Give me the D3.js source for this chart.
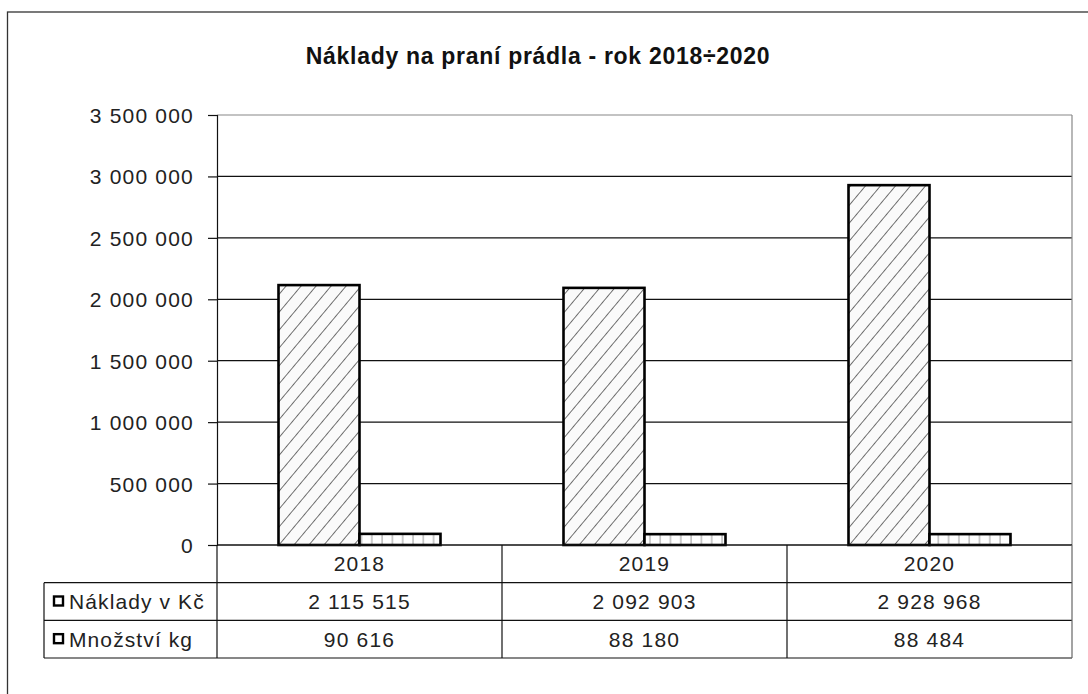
<!DOCTYPE html>
<html>
<head>
<meta charset="utf-8">
<script src="https://cdn.jsdelivr.net/npm/d3@7"></script>
<style>
  body { margin: 0; background: #fff; }
  text { font-family: "Liberation Sans", Arial, sans-serif; fill: #222; }
</style>
</head>
<body>
<div id="chart"></div>
<script>
//data
var years = ["2018", "2019", "2020"];
var seriesNames = ["Náklady v Kč", "Množství kg"];
var costValues = [2115515, 2092903, 2928968];
var kgValues = [90616, 88180, 88484];
var yTicks = [0, 500000, 1000000, 1500000, 2000000, 2500000, 3000000, 3500000];
var chartTitle = "Náklady na praní prádla - rok 2018÷2020";

var W = 1088, H = 694;
var plotL = 217, plotR = 1072, plotT = 115, plotB = 545;
var tableL = 44, tableB = 658;

var cz = d3.formatLocale({decimal: ",", thousands: " ", grouping: [3], currency: ["", " Kč"]});
var fmt = cz.format(",d");

var svg = d3.select("#chart").append("svg")
    .attr("width", W)
    .attr("height", H);

//hatch patterns
var defs = svg.append("defs");
var diag = defs.append("pattern")
    .attr("id", "diag")
    .attr("patternUnits", "userSpaceOnUse")
    .attr("width", 11.5).attr("height", 11.5)
    .attr("patternTransform", "rotate(40)");
diag.append("rect").attr("width", 11.5).attr("height", 11.5).attr("fill", "#fafafa");
diag.append("line").attr("x1", 0).attr("y1", 0).attr("x2", 0).attr("y2", 11.5)
    .attr("stroke", "#444").attr("stroke-width", 1.5);

var vert = defs.append("pattern")
    .attr("id", "vert")
    .attr("patternUnits", "userSpaceOnUse")
    .attr("width", 10.3).attr("height", 10);
vert.append("rect").attr("width", 10.3).attr("height", 10).attr("fill", "#fff");
vert.append("line").attr("x1", 1).attr("y1", 0).attr("x2", 1).attr("y2", 10)
    .attr("stroke", "#999").attr("stroke-width", 1);

var fills = ["url(#diag)", "url(#vert)"];

//outer chart border (cut off right and bottom in the original)
svg.append("rect")
    .attr("x", 7.5).attr("y", 12)
    .attr("width", W).attr("height", H)
    .attr("fill", "none")
    .attr("stroke", "#333")
    .attr("stroke-width", 1.3);

svg.append("text")
    .attr("x", 538)
    .attr("y", 64)
    .attr("text-anchor", "middle")
    .style("font-size", "23px")
    .style("font-weight", "bold")
    .style("letter-spacing", "0.7px")
    .style("fill", "#111")
    .text(chartTitle);

//scales
var xScale = d3.scaleBand()
    .domain(years)
    .range([plotL, plotR]);

var bw = xScale.bandwidth();
var xInner = d3.scaleBand()
    .domain(seriesNames)
    .range([bw * 0.2158, bw * (1 - 0.2158)]);

var yScale = d3.scaleLinear()
    .domain([0, 3500000])
    .range([plotB, plotT]);

//gridlines
svg.append("g").selectAll("line")
    .data(yTicks.slice(1))
    .enter().append("line")
    .attr("x1", plotL).attr("x2", plotR)
    .attr("y1", function(d){ return yScale(d); })
    .attr("y2", function(d){ return yScale(d); })
    .attr("stroke", function(d){ return d === 3500000 ? "#888" : "#111"; })
    .attr("stroke-width", 1.2);

//right edge of plot area
svg.append("line")
    .attr("x1", plotR).attr("x2", plotR)
    .attr("y1", plotT).attr("y2", plotB)
    .attr("stroke", "#888").attr("stroke-width", 1.2);

//y axis
var yAxis = svg.append("g")
    .attr("transform", "translate(" + plotL + ",0)")
    .call(d3.axisLeft(yScale).tickValues(yTicks).tickFormat(fmt).tickSize(9).tickPadding(14));
yAxis.select(".domain").attr("stroke", "#111").attr("stroke-width", 1.2);
yAxis.selectAll(".tick line").attr("stroke", "#111").attr("stroke-width", 1.2);
yAxis.selectAll(".tick text")
    .style("font-size", "21px")
    .style("letter-spacing", "1.2px")
    .attr("dy", "0.36em");

//bars
var barData = [];
years.forEach(function(y, i){
  barData.push({year: y, series: seriesNames[0], value: costValues[i], k: 0});
  barData.push({year: y, series: seriesNames[1], value: kgValues[i], k: 1});
});

svg.append("g").selectAll("rect")
    .data(barData)
    .enter().append("rect")
    .attr("x", function(d){ return xScale(d.year) + xInner(d.series); })
    .attr("y", function(d){ return yScale(d.value); })
    .attr("width", xInner.bandwidth())
    .attr("height", function(d){ return plotB - yScale(d.value); })
    .attr("fill", function(d){ return fills[d.k]; })
    .attr("stroke", "#000")
    .attr("stroke-width", 2.6);

//zero line on top
svg.append("line")
    .attr("x1", plotL).attr("x2", plotR)
    .attr("y1", yScale(0)).attr("y2", yScale(0))
    .attr("stroke", "#111").attr("stroke-width", 1.3);

//data table
var rowKeys = ["cat"].concat(seriesNames);
var rowScale = d3.scaleBand()
    .domain(rowKeys)
    .range([plotB, tableB]);
var rh = rowScale.bandwidth();
var table = svg.append("g");

//horizontal lines
table.selectAll(".hline")
    .data(seriesNames.concat(["end"]))
    .enter().append("line")
    .attr("x1", tableL).attr("x2", plotR)
    .attr("y1", function(d, i){ return rowScale(seriesNames[0]) + i * rh; })
    .attr("y2", function(d, i){ return rowScale(seriesNames[0]) + i * rh; })
    .attr("stroke", "#111").attr("stroke-width", 1.2);

//vertical lines
table.selectAll(".vline")
    .data(years.concat(["end"]))
    .enter().append("line")
    .attr("x1", function(d, i){ return plotL + i * bw; })
    .attr("x2", function(d, i){ return plotL + i * bw; })
    .attr("y1", plotB).attr("y2", tableB)
    .attr("stroke", function(d, i){ return i === years.length ? "#666" : "#111"; })
    .attr("stroke-width", 1.2);
table.append("line")
    .attr("x1", tableL).attr("x2", tableL)
    .attr("y1", rowScale(seriesNames[0])).attr("y2", tableB)
    .attr("stroke", "#111").attr("stroke-width", 1.2);

//category labels
table.selectAll(".cat")
    .data(years)
    .enter().append("text")
    .attr("x", function(d){ return xScale(d) + bw / 2; })
    .attr("y", rowScale("cat") + rh / 2)
    .attr("dy", "0.36em")
    .attr("text-anchor", "middle")
    .style("font-size", "21px")
    .style("letter-spacing", "1.2px")
    .text(function(d){ return d; });

//legend keys + row labels
var rows = [costValues, kgValues];
seriesNames.forEach(function(name, k){
  var cy = rowScale(name) + rh / 2;
  table.append("rect")
      .attr("x", 54).attr("y", cy - 5)
      .attr("width", 9).attr("height", 9)
      .attr("fill", "#fff")
      .attr("stroke", "#000")
      .attr("stroke-width", 2.4);
  table.append("text")
      .attr("x", 69).attr("y", cy)
      .attr("dy", "0.36em")
      .style("font-size", "21px")
      .style("letter-spacing", "1.1px")
      .text(name);
  table.selectAll(".v" + k)
      .data(rows[k])
      .enter().append("text")
      .attr("x", function(d, i){ return xScale(years[i]) + bw / 2; })
      .attr("y", cy)
      .attr("dy", "0.36em")
      .attr("text-anchor", "middle")
      .style("font-size", "21px")
      .style("letter-spacing", "1.2px")
      .text(function(d){ return fmt(d); });
});
</script>
</body>
</html>
